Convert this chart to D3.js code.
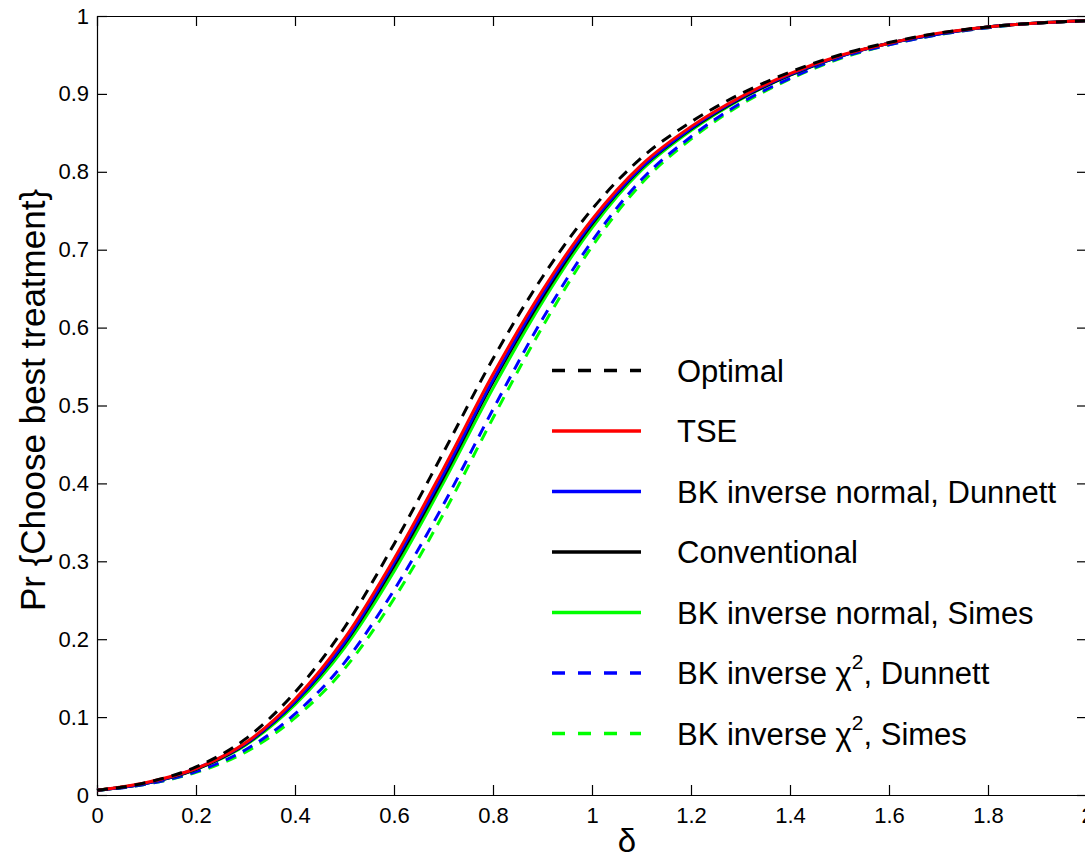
<!DOCTYPE html>
<html>
<head>
<meta charset="utf-8">
<script src="https://cdn.jsdelivr.net/npm/d3@7"></script>
<style>
  body { margin: 0; background: #fff; }
  svg { display: block; font-family: "Liberation Sans", Arial, sans-serif; }
</style>
</head>
<body>
<svg id="chart" width="1085" height="860"></svg>
<script>
// data
const delta = [0, 0.1, 0.2, 0.3, 0.4, 0.5, 0.6, 0.7, 0.8, 0.9, 1.0, 1.1, 1.2, 1.3, 1.4, 1.5, 1.6, 1.7, 1.8, 1.9, 2.0];

const optimal = [0.006, 0.016, 0.036, 0.072, 0.132, 0.215, 0.322, 0.44, 0.56, 0.665, 0.752, 0.818, 0.864, 0.9, 0.928, 0.95, 0.966, 0.978, 0.986, 0.991, 0.994];
const tse = [0.006, 0.016, 0.034, 0.067, 0.123, 0.201, 0.303, 0.419, 0.54, 0.648, 0.739, 0.809, 0.858, 0.896, 0.926, 0.949, 0.965, 0.978, 0.986, 0.991, 0.994];
const bkNormalDunnett = [0.006, 0.015, 0.034, 0.066, 0.12, 0.196, 0.298, 0.412, 0.533, 0.643, 0.735, 0.806, 0.856, 0.895, 0.925, 0.948, 0.965, 0.977, 0.986, 0.991, 0.994];
const conventional = [0.006, 0.015, 0.033, 0.065, 0.119, 0.194, 0.294, 0.408, 0.53, 0.639, 0.733, 0.805, 0.855, 0.894, 0.924, 0.948, 0.965, 0.977, 0.986, 0.991, 0.994];
const bkNormalSimes = [0.006, 0.015, 0.033, 0.064, 0.116, 0.189, 0.287, 0.401, 0.522, 0.633, 0.728, 0.802, 0.853, 0.893, 0.924, 0.948, 0.965, 0.977, 0.986, 0.991, 0.994];
const bkChiDunnett = [0.006, 0.014, 0.03, 0.058, 0.104, 0.17, 0.263, 0.373, 0.495, 0.611, 0.711, 0.79, 0.845, 0.888, 0.92, 0.946, 0.963, 0.976, 0.985, 0.991, 0.994];
const bkChiSimes = [0.006, 0.014, 0.029, 0.055, 0.099, 0.162, 0.252, 0.361, 0.484, 0.601, 0.704, 0.785, 0.842, 0.886, 0.919, 0.945, 0.963, 0.976, 0.985, 0.991, 0.994];

const xTicks = [0, 0.2, 0.4, 0.6, 0.8, 1, 1.2, 1.4, 1.6, 1.8, 2];
const yTicks = [0, 0.1, 0.2, 0.3, 0.4, 0.5, 0.6, 0.7, 0.8, 0.9, 1];

// legend order (top to bottom)
const series = [
  { name: "Optimal", values: optimal, color: "#000", dash: true },
  { name: "TSE", values: tse, color: "#ff0000", dash: false },
  { name: "BK inverse normal, Dunnett", values: bkNormalDunnett, color: "#0000ff", dash: false },
  { name: "Conventional", values: conventional, color: "#000", dash: false },
  { name: "BK inverse normal, Simes", values: bkNormalSimes, color: "#00ff00", dash: false },
  { name: "BK inverse χ2, Dunnett", chi: ", Dunnett", values: bkChiDunnett, color: "#0000ff", dash: true },
  { name: "BK inverse χ2, Simes", chi: ", Simes", values: bkChiSimes, color: "#00ff00", dash: true }
];

const margin = { left: 97, top: 16, right: 1087, bottom: 795 };
const svg = d3.select("#chart");

const x = d3.scaleLinear().domain([0, 2]).range([margin.left, margin.right]);
const y = d3.scaleLinear().domain([0, 1]).range([margin.bottom, margin.top]);

// axes with inward ticks, box on
const fmt = d => String(d);
svg.append("g").attr("class", "axis")
  .attr("transform", `translate(0,${margin.bottom})`)
  .call(d3.axisBottom(x).tickValues(xTicks).tickFormat(fmt).tickSizeInner(-10).tickSizeOuter(0).tickPadding(12));
svg.append("g").attr("class", "axis")
  .attr("transform", `translate(${margin.left},0)`)
  .call(d3.axisLeft(y).tickValues(yTicks).tickFormat(fmt).tickSizeInner(-10).tickSizeOuter(0).tickPadding(8));
svg.append("g").attr("class", "axis")
  .attr("transform", `translate(0,${margin.top})`)
  .call(d3.axisTop(x).tickValues(xTicks).tickFormat("").tickSizeInner(-10).tickSizeOuter(0));
svg.append("g").attr("class", "axis")
  .attr("transform", `translate(${margin.right},0)`)
  .call(d3.axisRight(y).tickValues(yTicks).tickFormat("").tickSizeInner(-10).tickSizeOuter(0));

svg.selectAll(".axis path, .axis line").attr("stroke", "#000").attr("stroke-width", 1.2);
svg.selectAll(".axis text").attr("font-size", 22).attr("fill", "#000")
  .attr("font-family", "'Liberation Sans', Arial, sans-serif");

// curves, drawn so that the optimal dashed line ends up on top
const line = d3.line()
  .x((d, i) => x(delta[i]))
  .y(d => y(d))
  .curve(d3.curveMonotoneX);

const drawOrder = [6, 5, 4, 3, 2, 1, 0];
drawOrder.forEach(k => {
  const s = series[k];
  svg.append("path")
    .datum(s.values)
    .attr("d", line)
    .attr("fill", "none")
    .attr("stroke", s.color)
    .attr("stroke-width", 3)
    .attr("stroke-dasharray", s.dash ? "11,8" : null);
});

// legend (no box)
const legend = svg.append("g");
series.forEach((s, i) => {
  const ly = 370.5 + i * 60.5;
  legend.append("line")
    .attr("x1", 552).attr("x2", 641)
    .attr("y1", ly).attr("y2", ly)
    .attr("stroke", s.color)
    .attr("stroke-width", 3.5)
    .attr("stroke-dasharray", s.dash ? "13,13" : null);
  const t = legend.append("text")
    .attr("x", 677).attr("y", ly + 11)
    .attr("font-size", 31).attr("fill", "#000");
  if (s.chi) {
    t.append("tspan").text("BK inverse χ");
    t.append("tspan").attr("font-size", 21).attr("dy", -15).text("2");
    t.append("tspan").attr("dy", 15).text(s.chi);
  } else {
    t.text(s.name);
  }
});

// axis labels
svg.append("text")
  .attr("transform", "translate(45,400) rotate(-90)")
  .attr("text-anchor", "middle")
  .attr("font-size", 35)
  .text("Pr {Choose best treatment}");

svg.append("text")
  .attr("x", 627).attr("y", 852)
  .attr("text-anchor", "middle")
  .attr("font-size", 33)
  .text("δ");
</script>
</body>
</html>
